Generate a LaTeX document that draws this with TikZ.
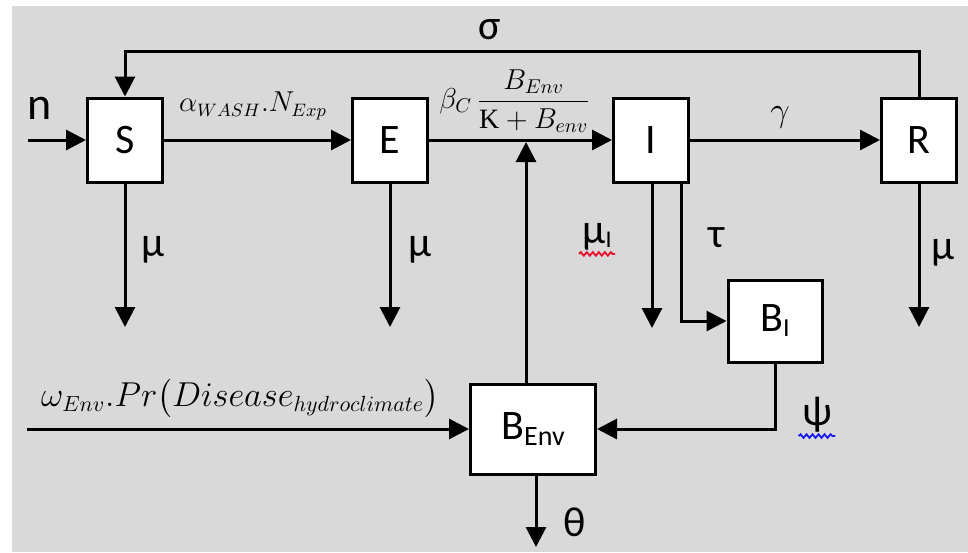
\documentclass[tikz,border=0pt]{standalone}
\usepackage{amsmath,amssymb}
\usepackage{fontspec}
\setmainfont{Carlito}
\newfontfamily\kfont{Liberation Serif}
\usepackage{tikz}
\usetikzlibrary{positioning,arrows.meta,decorations.pathmorphing}
\usepackage{xcolor}
\definecolor{panelgray}{HTML}{D9D9D9}
\definecolor{squigred}{HTML}{E8102A}
\definecolor{squigblue}{HTML}{1A1AF0}

\begin{document}
\begin{tikzpicture}[x=0.5pt,y=-0.5pt,>={Triangle[length=10pt,width=10pt]},line width=1.5pt,
  comp/.style={draw,fill=white,line width=1.5pt,inner sep=0pt,minimum width=37.5pt,minimum height=42pt,font=\fontsize{21}{21}\selectfont},
  rate/.style={inner sep=1pt,font=\fontsize{21}{21}\selectfont},
  flux/.style={inner sep=1pt,font=\fontsize{13.5}{13.5}\selectfont},
  squiggle/.style={decorate,decoration={snake,amplitude=0.9pt,segment length=3pt},line width=0.9pt}]
\useasboundingbox (0,0) rectangle (968,552);
\fill[panelgray] (12,6) rectangle (968,552);
% compartments
\node[comp] (S) at (125,140) {S};
\node[comp] (E) at (390,140) {E};
\node[comp] (I) at (651,140) {I};
\node[comp] (R) at (919,140) {R};
\node[comp,minimum width=47pt,minimum height=41pt] (BI) at (775,321) {B{\fontsize{13}{13}\selectfont\raisebox{-2.5pt}{I}}};
\node[comp,minimum width=62.5pt,minimum height=45pt] (BEnv) at (533,429) {B{\fontsize{14}{14}\selectfont\raisebox{-3pt}{Env}}};
% free ends
\coordinate (nin) at (28,140);
\coordinate (loop) at (0,51);
\coordinate (Sout) at (125,327);
\coordinate (Eout) at (390,327);
\coordinate (Iout) at (652,328);
\coordinate (Rout) at (919,327);
\coordinate (join) at (526,142);
\coordinate (win) at (27,429);
\coordinate (thout) at (536,547);
% flows
\draw[->] (nin) -- (S);
\draw[->] (S) -- (E);
\draw[->] (E) -- (I);
\draw[->] (I) -- (R);
\draw[->] (R.north) -- (R.north |- loop) -- (S.north |- loop) -- (S.north);
\draw[->] (S.south) -- (Sout);
\draw[->] (E.south) -- (Eout);
\draw[->] (I.south -| Iout) -- (Iout);
\draw[->] (R.south) -- (Rout);
\draw[->] ([xshift=15pt]I.south) |- (BI.west);
\draw[->] ([xshift=-3.5pt]BEnv.north) -- (join);
\draw[->] (BI.south) |- (BEnv.east);
\draw[->] (win) -- (BEnv.west);
\draw[->] ([xshift=1.5pt]BEnv.south) -- (thout);
% labels
\node[rate] (sig) at (490,30) {σ};
\node[rate,font=\fontsize{23}{23}\selectfont] (nlab) at (40,108) {n};
\node[flux] (alab) at (253,106) {$\alpha_{WASH}.N_{Exp}$};
\node[flux,font=\fontsize{14}{14}\selectfont] (blab) at (515,101) {$\beta_C\,\dfrac{B_{Env}}{\text{\kfont K}+B_{env}}$};
\node[flux,font=\fontsize{16}{16}\selectfont] (glab) at (780,117) {$\gamma$};
\node[rate] (muS) at (153,250) {μ};
\node[rate] (muE) at (420,250) {μ};
\node[rate] (muR) at (943,253) {μ};
\node[rate] (muI) at (597,237) {μ{\fontsize{12}{12}\selectfont\raisebox{-2pt}{I}}};
\node[rate] (tau) at (717,238) {τ};
\node[rate] (psi) at (817,415) {ψ};
\node[rate] (th) at (575,522) {θ};
\node[flux,font=\fontsize{16}{16}\selectfont] (wlab) at (240,398) {$\omega_{Env}.Pr\bigl(Disease_{hydroclimate}\bigr)$};
\draw[squiggle,squigred] (muI.south west) -- (muI.south east);
\draw[squiggle,squigblue] (psi.south west) -- (psi.south east);
\end{tikzpicture}
\end{document}
